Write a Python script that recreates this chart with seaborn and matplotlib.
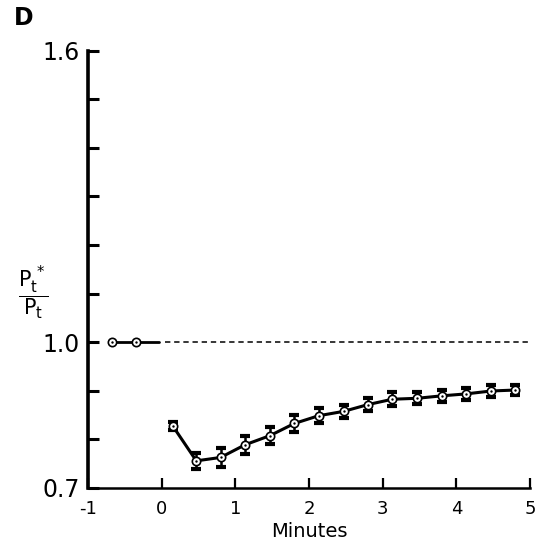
import numpy as np
import pandas as pd
import seaborn as sns
import matplotlib.pyplot as plt

# control period (before t = 0)
pre_minutes = [-0.68, -0.35]
pre_ratio = [1.0, 1.0]

# after t = 0
minutes = [0.15, 0.47, 0.80, 1.13, 1.47, 1.80, 2.13, 2.47, 2.80, 3.13,
           3.47, 3.80, 4.13, 4.47, 4.80]
ratio = [0.827, 0.755, 0.762, 0.788, 0.807, 0.832, 0.848, 0.857, 0.871, 0.882,
         0.884, 0.889, 0.893, 0.899, 0.901]
sem = [0.009, 0.0165, 0.019, 0.018, 0.017, 0.017, 0.015, 0.014, 0.013, 0.014,
       0.012, 0.012, 0.012, 0.012, 0.010]

baseline = 1.0
y_ticks = [0.7, 0.8, 0.9, 1.0, 1.1, 1.2, 1.3, 1.4, 1.5, 1.6]
y_labels = ['0.7', '', '', '1.0', '', '', '', '', '', '1.6']
x_ticks = [-1, 0, 1, 2, 3, 4, 5]

pre = pd.DataFrame({'minutes': pre_minutes, 'ratio': pre_ratio})
post = pd.DataFrame({'minutes': minutes, 'ratio': ratio, 'sem': sem})

sns.set_style('ticks', {'axes.edgecolor': 'black', 'text.color': 'black',
                        'xtick.color': 'black', 'ytick.color': 'black',
                        'axes.labelcolor': 'black'})
plt.rcParams['font.family'] = ['DejaVu Sans']

fig = plt.figure(figsize=(5.41, 5.53), dpi=100)
ax = fig.add_axes([0.1627, 0.1184, 0.8170, 0.7894])

# dashed reference line for the control level
ax.plot([0.05, 5.0], [baseline, baseline], color='black', lw=1.1,
        ls=(0, (3.5, 2.5)), zorder=1)
# solid control segment
ax.plot([pre_minutes[0], -0.03], [baseline, baseline], color='black', lw=2.0, zorder=2)

sns.lineplot(data=post, x='minutes', y='ratio', color='black', lw=2.2,
             ax=ax, zorder=2)
ax.errorbar(post['minutes'], post['ratio'], yerr=post['sem'], fmt='none',
            ecolor='black', elinewidth=1.8, capsize=3.8, capthick=3.0, zorder=3)

for df in (pre, post):
    sns.scatterplot(data=df, x='minutes', y='ratio', marker='o', s=36,
                    color='white', edgecolor='black', linewidth=1.2, ax=ax, zorder=4)
    sns.scatterplot(data=df, x='minutes', y='ratio', marker='o', s=3,
                    color='black', linewidth=0, ax=ax, zorder=5)

ax.set_xlim(-1, 5)
ax.set_ylim(0.7, 1.6)
ax.set_xticks(x_ticks)
ax.set_xticklabels([str(t) for t in x_ticks], fontsize=13)
ax.set_yticks(y_ticks)
ax.set_yticklabels(y_labels, fontsize=17)
ax.tick_params(axis='y', direction='in', length=8, width=2.2, pad=6, colors='black')
ax.tick_params(axis='x', direction='in', length=7, width=1.6, pad=9, colors='black')
ax.set_xlabel('Minutes', fontsize=14, labelpad=3, color='black')
ax.set_ylabel('')

sns.despine(ax=ax)
ax.spines['left'].set_linewidth(2.6)
ax.spines['bottom'].set_linewidth(1.8)

fig.text(0.061, 1 - 293 / 553, r'$\dfrac{\mathrm{P}_\mathrm{t}^{\,*}}{\mathrm{P}_\mathrm{t}}$',
         fontsize=15, ha='center', va='center', color='black')
fig.text(0.026, 1 - 18 / 553, 'D', fontsize=17, fontweight='bold',
         ha='left', va='center', color='black')

fig.savefig('out.png', dpi=100)
